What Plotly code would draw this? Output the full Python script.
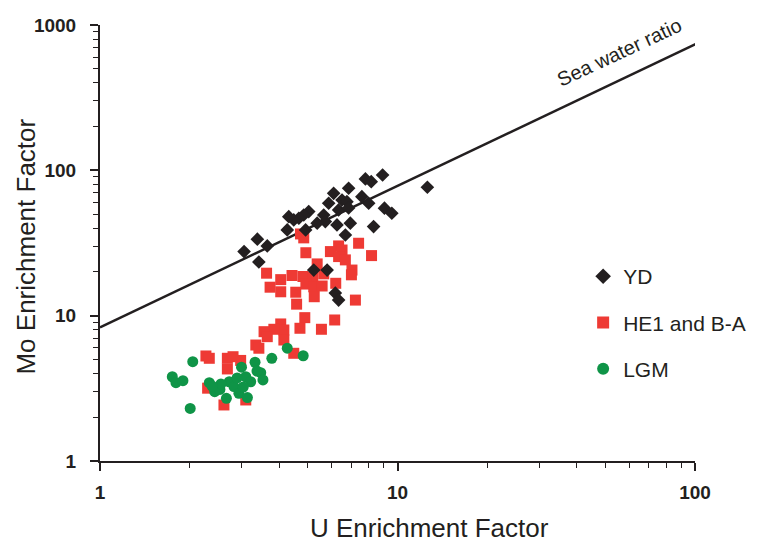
import plotly.graph_objects as go

# ---- data ----
yd_u = [8.91, 7.80, 8.16, 12.6, 6.85, 6.10, 7.59, 6.51, 6.76, 5.87, 8.00, 6.34, 6.85, 9.04,
        9.57, 5.03, 4.84, 4.66, 4.48, 4.31, 5.65, 5.72, 5.37, 6.26, 6.94, 8.31, 4.26, 4.91,
        6.68, 3.38, 3.65, 3.05, 3.42, 5.23, 5.80, 6.18, 6.34]
yd_mo = [92.9, 87.3, 83.6, 76.5, 75.3, 69.5, 65.9, 62.5, 60.9, 59.4, 59.4, 53.4, 55.1, 54.9,
         50.7, 52.0, 49.3, 46.8, 45.6, 48.0, 49.3, 44.4, 43.3, 42.1, 43.3, 41.0, 38.9, 38.9,
         35.9, 33.6, 30.2, 27.6, 23.4, 20.6, 20.6, 14.3, 12.8]

he_u = [4.84, 4.72, 4.92, 6.34, 6.51, 5.95, 7.40, 8.18, 6.34, 6.68, 5.37, 7.03, 7.00, 3.63,
        4.05, 4.42, 4.81, 5.19, 5.65, 4.92, 5.23, 5.58, 3.73, 4.05, 4.55, 6.20, 5.25, 4.58,
        7.22, 4.88, 4.70, 5.55, 6.15, 4.05, 4.15, 3.84, 3.56, 3.65, 3.34, 3.42, 4.15, 2.27,
        2.33, 2.68, 2.80, 2.97, 2.68, 4.48, 2.30, 2.61, 3.09]
he_mo = [34.3, 36.5, 27.1, 30.2, 28.3, 27.6, 31.5, 25.9, 25.5, 24.2, 22.7, 20.6, 19.1, 19.6,
         17.7, 18.9, 18.6, 18.3, 19.4, 16.5, 15.8, 16.0, 15.7, 14.6, 14.5, 16.7, 13.5, 12.0,
         12.8, 9.69, 8.19, 8.06, 9.34, 8.77, 7.97, 8.06, 7.76, 7.17, 6.28, 5.97, 6.80, 5.28,
         5.09, 5.09, 5.22, 4.92, 4.30, 5.51, 3.17, 2.43, 2.63]

lgm_u = [2.05, 1.75, 1.80, 1.90, 2.01, 2.33, 2.43, 2.53, 2.66, 2.72, 2.82, 2.93, 3.13, 2.99,
         3.09, 3.21, 3.32, 3.47, 3.53, 3.78, 4.26, 4.82, 2.55, 2.89, 3.37, 3.03, 2.38]
lgm_mo = [4.82, 3.80, 3.46, 3.57, 2.30, 3.46, 3.00, 3.11, 2.70, 3.51, 3.25, 2.92, 2.73, 4.42,
          3.80, 3.51, 4.78, 4.05, 3.61, 5.09, 5.97, 5.30, 3.39, 3.73, 4.16, 3.23, 3.28]

seawater_u = [1.0, 104.0]
seawater_mo = [8.3, 765.0]

x_tickvals = [1, 10, 100]
x_ticktext = ["1", "10", "100"]
y_tickvals = [1, 10, 100, 1000]
y_ticktext = ["1", "10", "100", "1000"]

BLACK = "#231F20"
RED = "#EE3A34"
GREEN = "#0F9447"
FONT = "Liberation Sans, Arial, sans-serif"

fig = go.Figure()

fig.add_trace(go.Scatter(x=seawater_u, y=seawater_mo, mode="lines",
                         line=dict(color=BLACK, width=2.5), showlegend=False,
                         hoverinfo="skip"))
fig.add_trace(go.Scatter(x=he_u, y=he_mo, mode="markers", name="HE1 and B-A",
                         legendgroup="b", legendrank=2,
                         marker=dict(symbol="square", size=11, color=RED,
                                     line=dict(width=0))))
fig.add_trace(go.Scatter(x=yd_u, y=yd_mo, mode="markers", name="YD",
                         legendgroup="a", legendrank=1,
                         marker=dict(symbol="diamond", size=10.5, color=BLACK,
                                     line=dict(width=0))))
fig.add_trace(go.Scatter(x=lgm_u, y=lgm_mo, mode="markers", name="LGM",
                         legendgroup="c", legendrank=3,
                         marker=dict(symbol="circle", size=11, color=GREEN,
                                     line=dict(width=0))))

minor_x = [m * d for d in (1, 10) for m in range(2, 10)]
minor_y = [m * d for d in (1, 10, 100) for m in range(2, 10)]

fig.update_xaxes(type="log", range=[0, 2], showline=True, linecolor=BLACK, linewidth=2,
                 ticks="outside", ticklen=8, tickwidth=1.5, tickcolor=BLACK,
                 tickmode="array", tickvals=x_tickvals, ticktext=x_ticktext,
                 tickfont=dict(family=FONT, size=19, color=BLACK, weight="bold"),
                 ticklabelstandoff=5,
                 minor=dict(ticks="outside", ticklen=5, tickwidth=1.2, tickcolor=BLACK,
                            tickmode="array", tickvals=minor_x, showgrid=False),
                 showgrid=False, zeroline=False)
fig.update_yaxes(type="log", range=[0, 3], showline=True, linecolor=BLACK, linewidth=2,
                 ticks="outside", ticklen=8, tickwidth=1.5, tickcolor=BLACK,
                 tickmode="array", tickvals=y_tickvals, ticktext=y_ticktext,
                 tickfont=dict(family=FONT, size=19, color=BLACK, weight="bold"),
                 ticklabelstandoff=10,
                 minor=dict(ticks="outside", ticklen=5, tickwidth=1.2, tickcolor=BLACK,
                            tickmode="array", tickvals=minor_y, showgrid=False),
                 showgrid=False, zeroline=False)

# axis titles
fig.add_annotation(x=0.554, y=-0.153, xref="paper", yref="paper",
                   text="U Enrichment Factor", showarrow=False,
                   xanchor="center", yanchor="middle",
                   font=dict(family=FONT, size=26, color=BLACK))
fig.add_annotation(x=-0.125, y=0.491, xref="paper", yref="paper",
                   text="Mo Enrichment Factor", showarrow=False, textangle=-90,
                   xanchor="center", yanchor="middle",
                   font=dict(family=FONT, size=26, color=BLACK))

fig.add_annotation(x=1.747, y=2.815, xref="x", yref="y", text="Sea water ratio",
                   showarrow=False, textangle=-25,
                   font=dict(family=FONT, size=20, color=BLACK))

fig.update_layout(
    width=763, height=552,
    margin=dict(l=100, r=66, t=25, b=91),
    paper_bgcolor="white", plot_bgcolor="white",
    font=dict(family=FONT, color=BLACK),
    legend=dict(x=0.812, y=0.47, xanchor="left", yanchor="top",
                font=dict(family=FONT, size=21, color=BLACK),
                tracegroupgap=16, itemsizing="constant",
                bgcolor="rgba(0,0,0,0)"),
    showlegend=True,
)

fig.write_html("out.html")
